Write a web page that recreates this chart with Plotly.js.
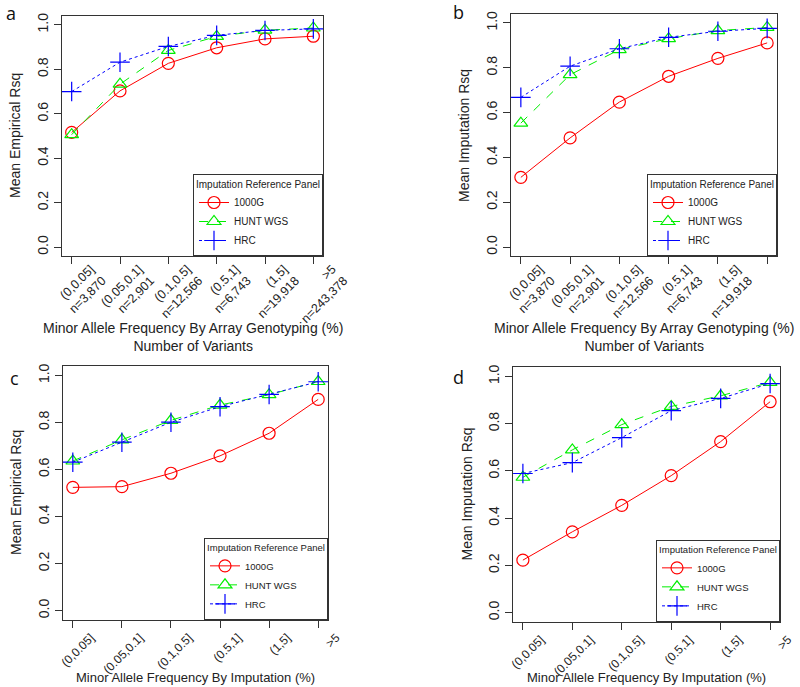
<!DOCTYPE html>
<html>
<head>
<meta charset="utf-8">
<script src="https://cdn.plot.ly/plotly-3.0.1.min.js"></script>
<style>
  body { margin: 0; background: #fff; }
  #chart { width: 800px; height: 687px; }
</style>
</head>
<body>
<div id="chart"></div>
<script>
// ============================================
// DATA
// ============================================

const panelLetters = ['a', 'b', 'c', 'd'];
const seriesNames = ['1000G', 'HUNT WGS', 'HRC'];

const mafBins = ['(0,0.05]', '(0.05,0.1]', '(0.1,0.5]', '(0.5,1]', '(1,5]', '>5'];
const variantCounts = ['n=3,870', 'n=2,901', 'n=12,566', 'n=6,743', 'n=19,918', 'n=243,378'];

// panel a: empirical Rsq, MAF by array genotyping
const a1000G = [0.516, 0.703, 0.827, 0.897, 0.937, 0.949];
const aHUNT  = [0.506, 0.733, 0.885, 0.948, 0.976, 0.986];
const aHRC   = [0.700, 0.832, 0.903, 0.953, 0.975, 0.982];

// panel b: imputation Rsq, MAF by array genotyping
const b1000G = [0.311, 0.487, 0.647, 0.762, 0.842, 0.911];
const bHUNT  = [0.553, 0.769, 0.881, 0.930, 0.966, 0.980];
const bHRC   = [0.668, 0.807, 0.885, 0.936, 0.963, 0.976];

// panel c: empirical Rsq, MAF by imputation
const c1000G = [0.524, 0.527, 0.584, 0.658, 0.754, 0.898];
const cHUNT  = [0.636, 0.726, 0.809, 0.874, 0.918, 0.974];
const cHRC   = [0.631, 0.716, 0.801, 0.867, 0.919, 0.973];

// panel d: imputation Rsq, MAF by imputation
const d1000G = [0.222, 0.342, 0.454, 0.580, 0.724, 0.893];
const dHUNT  = [0.573, 0.689, 0.796, 0.873, 0.918, 0.975];
const dHRC   = [0.589, 0.635, 0.741, 0.855, 0.907, 0.970];

// ============================================
// LAYOUT HELPERS
// ============================================

const W = 800, H = 687;
const FONT = 'Liberation Sans, Arial, sans-serif';
const px = v => v / W;
const py = v => 1 - v / H;

// plot boxes in pixels: [left, right, top, bottom]
const boxes = [
  [62, 323, 16, 256],
  [511, 777, 14, 256],
  [63, 328, 366, 620],
  [513, 780, 367, 622]
];

const yTitles = ['Mean Empirical Rsq', 'Mean Imputation Rsq', 'Mean Empirical Rsq', 'Mean Imputation Rsq'];
const xTitles = [
  'Minor Allele Frequency By Array Genotyping (%)<br>Number of Variants',
  'Minor Allele Frequency By Array Genotyping (%)<br>Number of Variants',
  'Minor Allele Frequency By Imputation (%)',
  'Minor Allele Frequency By Imputation (%)'
];
const panelData = [
  [a1000G, aHUNT, aHRC],
  [b1000G, bHUNT, bHRC],
  [c1000G, cHUNT, cHRC],
  [d1000G, dHUNT, dHRC]
];

const styles = [
  { color: '#ff0000', dash: 'solid', symbol: 'circle-open' },
  { color: '#00ee00', dash: 'dash', symbol: 'triangle-up-open' },
  { color: '#0000ff', dash: 'dot', symbol: 'cross-thin-open' }
];

const xIdx = mafBins.map((_, i) => i);
const twoLineTicks = mafBins.map((b, i) => b + '<br>' + variantCounts[i]);

const traces = [];
const layout = {
  width: W, height: H,
  margin: { l: 0, r: 0, t: 0, b: 0 },
  paper_bgcolor: '#fff',
  plot_bgcolor: '#fff',
  font: { family: FONT, size: 14, color: '#222' },
  showlegend: true,
  annotations: []
};

panelData.forEach((series, p) => {
  const n = p + 1;
  const ax = n === 1 ? '' : String(n);
  const legendId = n === 1 ? 'legend' : 'legend' + n;
  const [L, R, T, B] = boxes[p];
  const small = p >= 2;

  series.forEach((vals, s) => {
    traces.push({
      x: xIdx,
      y: vals,
      name: seriesNames[s],
      xaxis: 'x' + ax,
      yaxis: 'y' + ax,
      legend: legendId,
      type: 'scatter',
      mode: 'lines+markers',
      line: { color: styles[s].color, width: 1, dash: styles[s].dash },
      marker: {
        symbol: styles[s].symbol,
        size: s === 2 ? 14 : 12,
        color: styles[s].color,
        line: { color: styles[s].color, width: 1.2 }
      },
      cliponaxis: false
    });
  });

  layout['xaxis' + ax] = {
    domain: [px(L), px(R)],
    anchor: 'y' + ax,
    range: [-0.2, 5.2],
    tickvals: xIdx,
    ticktext: p < 2 ? twoLineTicks : mafBins,
    tickangle: -45,
    ticks: 'outside', ticklen: 7, tickcolor: '#333',
    ticklabelshift: small ? 18 : 19,
    ticklabelstandoff: small ? -2 : -7,
    tickfont: { family: FONT, size: small ? 12 : 12.5, color: '#222' },
    showline: true, mirror: true, linecolor: '#333', linewidth: 1,
    showgrid: false, zeroline: false, fixedrange: true
  };
  layout['yaxis' + ax] = {
    domain: [py(B), py(T)],
    anchor: 'x' + ax,
    range: [-0.04, 1.04],
    tickvals: [0, 0.2, 0.4, 0.6, 0.8, 1.0],
    ticktext: ['0.0', '0.2', '0.4', '0.6', '0.8', '1.0'],
    tickangle: -90,
    ticks: 'outside', ticklen: 7, tickcolor: '#333',
    tickfont: { family: FONT, size: 14, color: '#222' },
    showline: true, mirror: true, linecolor: '#333', linewidth: 1,
    showgrid: false, zeroline: false, fixedrange: true
  };

  layout[legendId] = {
    x: px(R), xanchor: 'right',
    y: py(B), yanchor: 'bottom',
    bgcolor: '#fff',
    bordercolor: '#333', borderwidth: 1,
    font: { family: FONT, size: small ? 9.5 : 10, color: '#222' },
    title: { text: 'Imputation Reference Panel', font: { family: FONT, size: small ? 9.5 : 10, color: '#222' }, side: 'top center' },
    tracegroupgap: 0,
    itemwidth: 30
  };

  // y-axis title
  layout.annotations.push({
    text: yTitles[p], xref: 'paper', yref: 'paper',
    x: px(L - 47), y: py((T + B) / 2), textangle: -90,
    xanchor: 'center', yanchor: 'middle', showarrow: false,
    font: { family: FONT, size: 14, color: '#222' }
  });
  // x-axis title
  layout.annotations.push({
    text: xTitles[p], xref: 'paper', yref: 'paper',
    x: px((L + R) / 2), y: py(p < 2 ? 337 : 677),
    xanchor: 'center', yanchor: 'middle', showarrow: false,
    font: { family: FONT, size: small ? 13 : 14, color: '#222' }
  });
});

// panel letters
const letterPos = [[4, 13], [451, 12.5], [8, 378], [451, 377]];
panelLetters.forEach((t, i) => {
  layout.annotations.push({
    text: t, xref: 'paper', yref: 'paper',
    x: px(letterPos[i][0]), y: py(letterPos[i][1]),
    xanchor: 'left', yanchor: 'middle', showarrow: false,
    font: { family: 'Open Sans, DejaVu Sans, sans-serif', size: 18, color: '#111' }
  });
});

Plotly.newPlot('chart', traces, layout, { staticPlot: true });
</script>
</body>
</html>
